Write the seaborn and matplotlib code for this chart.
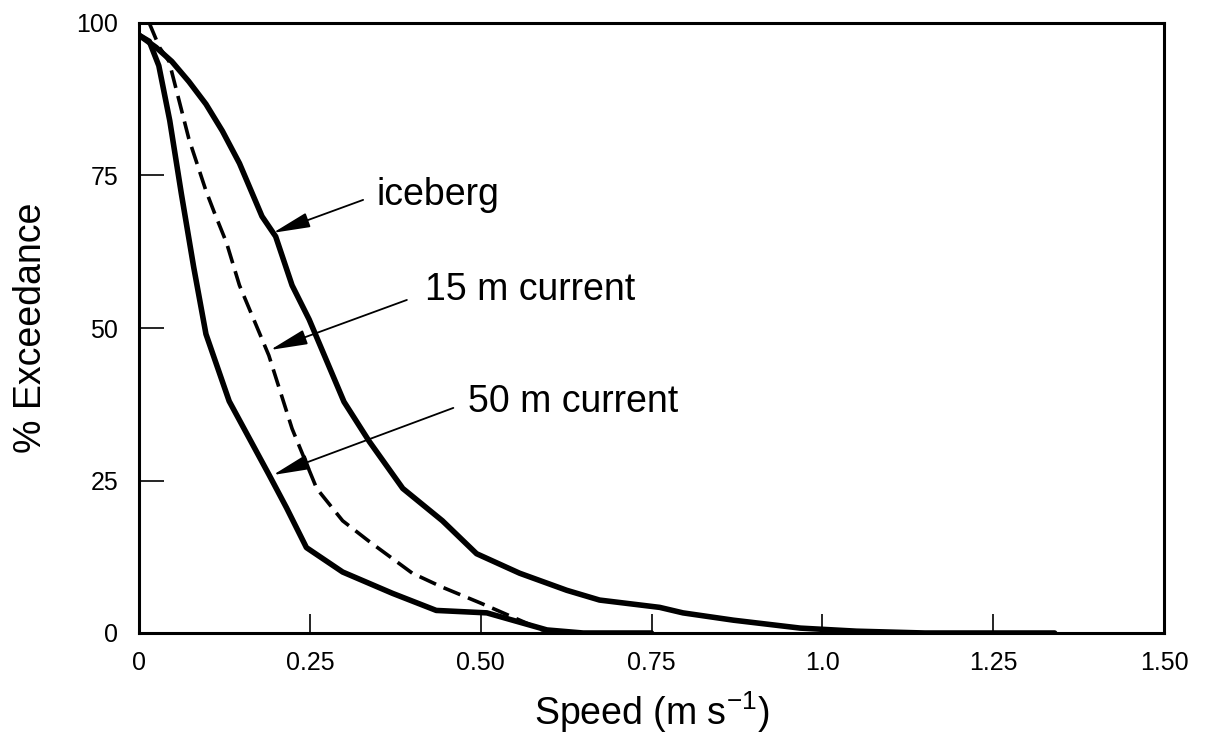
import matplotlib
matplotlib.use("Agg")
import matplotlib.pyplot as plt
import seaborn as sns
import pandas as pd

# Data (speed in m/s, % exceedance)
ice_speed = [0.0, 0.025, 0.048, 0.073, 0.098, 0.122, 0.147, 0.18, 0.2, 0.224, 0.249,
             0.3, 0.337, 0.386, 0.444, 0.494, 0.557, 0.626, 0.674, 0.762, 0.796,
             0.87, 0.968, 1.05, 1.15, 1.34]
ice_pct = [98, 96, 93.7, 90.4, 86.7, 82.3, 77, 68.3, 65, 57, 51.4,
           37.9, 31.4, 23.7, 18.4, 13, 9.8, 7, 5.4, 4.2, 3.3,
           2.1, 0.8, 0.3, 0.0, 0.0]

c15_speed = [0.015, 0.03, 0.044, 0.073, 0.098, 0.11, 0.128, 0.147, 0.19, 0.224, 0.26,
             0.298, 0.337, 0.4, 0.444, 0.5, 0.59, 0.62]
c15_pct = [100, 96, 93.7, 81, 72.5, 69, 64, 57, 45.5, 33.5, 23.7,
           18.4, 15, 9.8, 7.5, 4.9, 0.5, 0.0]

c50_speed = [0.0, 0.015, 0.029, 0.045, 0.062, 0.08, 0.098, 0.132, 0.19, 0.216, 0.245,
             0.298, 0.371, 0.435, 0.509, 0.597, 0.65, 0.75]
c50_pct = [98, 97, 93, 84, 72, 60, 49, 38, 26, 20.5, 14,
           10, 6.5, 3.7, 3.3, 0.5, 0.0, 0.0]

x_ticks = [0, 0.25, 0.5, 0.75, 1.0, 1.25, 1.5]
x_labels = ["0", "0.25", "0.50", "0.75", "1.0", "1.25", "1.50"]
y_ticks = [0, 25, 50, 75, 100]
y_labels = ["0", "25", "50", "75", "100"]

sns.set_theme(style="white")
plt.rcParams['font.family'] = ['Liberation Sans', 'DejaVu Sans']
plt.rcParams['mathtext.fontset'] = 'custom'
plt.rcParams['mathtext.rm'] = 'Liberation Sans'
plt.rcParams['text.color'] = 'black'
plt.rcParams['axes.labelcolor'] = 'black'
plt.rcParams['xtick.color'] = 'black'
plt.rcParams['ytick.color'] = 'black'

fig = plt.figure(figsize=(12.09, 7.42), dpi=100)
ax = fig.add_axes([139 / 1209, 109 / 742, 1025 / 1209, 610 / 742])

df_ice = pd.DataFrame({"speed": ice_speed, "pct": ice_pct})
df15 = pd.DataFrame({"speed": c15_speed, "pct": c15_pct})
df50 = pd.DataFrame({"speed": c50_speed, "pct": c50_pct})

sns.lineplot(data=df_ice, x="speed", y="pct", ax=ax, color="black", lw=4.0,
             sort=False, estimator=None)
sns.lineplot(data=df15, x="speed", y="pct", ax=ax, color="black", lw=2.6,
             sort=False, estimator=None, linestyle=(0, (5, 2.3)))
sns.lineplot(data=df50, x="speed", y="pct", ax=ax, color="black", lw=4.0,
             sort=False, estimator=None)
for ln in ax.lines:
    ln.set_solid_joinstyle("round")
    ln.set_dash_joinstyle("round")

ax.set_xlim(0, 1.5)
ax.set_ylim(0, 100)
ax.set_xticks(x_ticks)
ax.set_xticklabels(x_labels)
ax.set_yticks(y_ticks)
ax.set_yticklabels(y_labels)
ax.tick_params(axis="x", direction="in", length=14, width=1.2, labelsize=18,
               pad=13, bottom=True)
ax.tick_params(axis="y", direction="in", length=18, width=1.2, labelsize=18,
               pad=15, left=True)
for s in ax.spines.values():
    s.set_color("black")
    s.set_linewidth(2.2)

ax.set_xlabel("Speed (m s$^{\\mathregular{-1}}$)", fontsize=27, labelpad=10)
ax.set_ylabel("% Exceedance", fontsize=27, labelpad=20)

arrow = dict(arrowstyle="-|>,head_length=1.15,head_width=0.23", color="black",
             lw=1.3, mutation_scale=20, shrinkA=0, shrinkB=0)
ax.annotate("", xy=(0.196, 65.6), xytext=(0.328, 71.0), arrowprops=arrow)
ax.text(0.348, 70.2, "iceberg", fontsize=27, va="baseline", ha="left")
ax.annotate("", xy=(0.192, 46.4), xytext=(0.392, 54.6), arrowprops=arrow)
ax.text(0.419, 54.6, "15 m current", fontsize=27, va="baseline", ha="left")
ax.annotate("", xy=(0.196, 25.9), xytext=(0.46, 36.9), arrowprops=arrow)
ax.text(0.482, 36.2, "50 m current", fontsize=27, va="baseline", ha="left")

fig.savefig("out.png", dpi=100)
